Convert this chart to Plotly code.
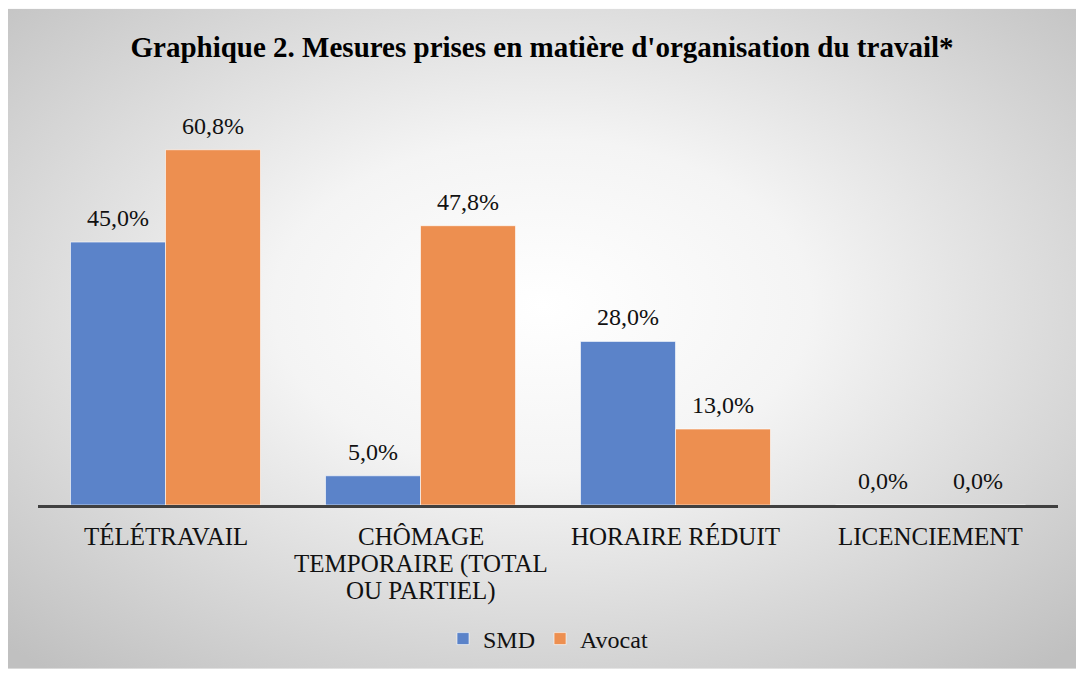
import base64
import plotly.graph_objects as go

categories = ["TÉLÉTRAVAIL", "CHÔMAGE<br>TEMPORAIRE (TOTAL<br>OU PARTIEL)", "HORAIRE RÉDUIT", "LICENCIEMENT"]
smd_values = [45.0, 5.0, 28.0, 0.0]
avocat_values = [60.8, 47.8, 13.0, 0.0]
series_names = ["SMD", "Avocat"]
title_text = "Graphique 2. Mesures prises en matière d'organisation du travail*"

W, H = 1076, 673
L, R, T, B = 38, 18, 96, 165
PW, PH = W - L - R, H - T - B
OFF = 8  # white band at top/left of the reference

colors = ["#5B83C9", "#ED8F50"]
font_family = "Liberation Serif, Times New Roman, serif"
text_color = "#111111"

def fmt(v):
    return f"{v:.1f}%".replace(".", ",")

fig = go.Figure()
for name, vals, col in zip(series_names, [smd_values, avocat_values], colors):
    fig.add_trace(go.Bar(
        name=name, x=categories, y=vals,
        marker=dict(color=col, line=dict(color="rgba(255,255,255,0.6)", width=1)),
        hoverinfo="skip",
    ))

annotations = []
# data labels
bar_px = PW / len(categories) * (1 - 0.255) / 2
for vals, sign in [(smd_values, -1), (avocat_values, 1)]:
    for c, v in zip(categories, vals):
        annotations.append(dict(
            x=c, y=v, xref="x", yref="y", text=fmt(v), showarrow=False,
            xshift=sign * bar_px / 2, yshift=24, yanchor="middle",
            font=dict(family=font_family, size=24, color=text_color),
        ))
# category labels (tighter line spacing than plotly's tick labels)
for c in categories:
    for j, line in enumerate(c.split("<br>")):
        annotations.append(dict(
            x=c, y=0, xref="x", yref="y", text=line, showarrow=False,
            yshift=-31 - 27.5 * j, yanchor="middle",
            font=dict(family=font_family, size=25, color=text_color),
        ))

gw, gh = W - OFF, H - OFF
svg = (
    f'<svg xmlns="http://www.w3.org/2000/svg" width="{gw}" height="{gh}" preserveAspectRatio="none">'
    '<defs><radialGradient id="g" cx="0.5" cy="0.45" r="0.72">'
    '<stop offset="0" stop-color="#ffffff"/>'
    '<stop offset="0.35" stop-color="#f4f4f4"/>'
    '<stop offset="1" stop-color="#c0c0c0"/>'
    '</radialGradient></defs>'
    f'<rect width="{gw}" height="{gh}" fill="url(#g)"/></svg>'
)
src = "data:image/svg+xml;base64," + base64.b64encode(svg.encode()).decode()

fig.update_layout(
    width=W, height=H,
    margin=dict(l=L, r=R, t=T, b=B),
    paper_bgcolor="white", plot_bgcolor="rgba(0,0,0,0)",
    barmode="group", bargap=0.255, bargroupgap=0,
    title=dict(text="<b>" + title_text + "</b>", x=(W + OFF) / 2 / W, xanchor="center",
               y=1 - 47 / H, yanchor="middle",
               font=dict(family=font_family, size=29, color="#000000")),
    font=dict(family=font_family, size=24, color=text_color),
    xaxis=dict(showline=True, linecolor="#404040", linewidth=3, ticks="",
               showgrid=False, zeroline=False, showticklabels=False),
    yaxis=dict(range=[0, 70], visible=False, showgrid=False, zeroline=False),
    legend=dict(orientation="h", x=0.5, xanchor="center",
                y=(H - B - 643) / PH, yanchor="middle",
                font=dict(family=font_family, size=24, color=text_color),
                bgcolor="rgba(0,0,0,0)"),
    annotations=annotations,
    images=[dict(source=src, xref="paper", yref="paper",
                 x=(OFF - L) / PW, y=1 + (T - OFF) / PH, sizex=gw / PW, sizey=gh / PH,
                 xanchor="left", yanchor="top", sizing="stretch", layer="below")],
)

fig.write_html(
    "out.html",
    config={"displayModeBar": False},
    post_script=(
        "document.body.style.margin='0';"
        "document.body.style.overflow='hidden';"
        "document.documentElement.style.overflow='hidden';"
        "document.body.style.background='#cdcdcd';"
        "document.documentElement.style.background='#cdcdcd';"
    ),
)
